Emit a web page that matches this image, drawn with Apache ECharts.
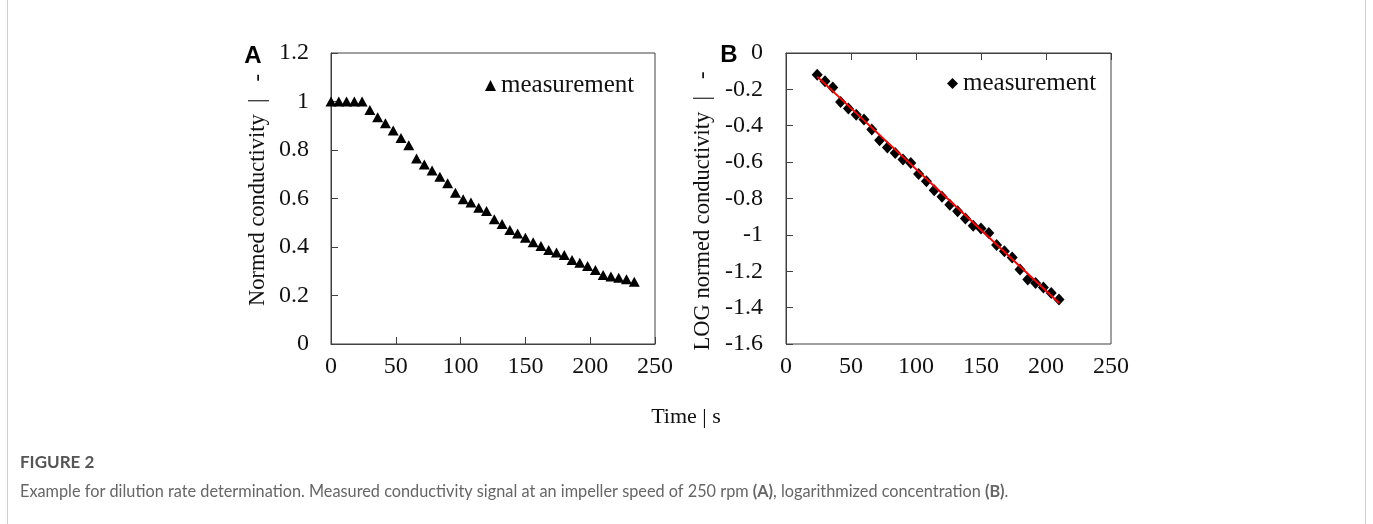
<!DOCTYPE html>
<html>
<head>
<meta charset="utf-8">
<script src="https://cdn.jsdelivr.net/npm/echarts@6/dist/echarts.min.js"></script>
<style>
html,body{margin:0;padding:0;background:#fff;}
#chart{width:1373px;height:524px;}
</style>
</head>
<body>
<div id="chart"></div>
<script>
// ---- Data ----
const timeA = [0,6,12,18,24,30,36,42,48,54,60,66,72,78,84,90,96,102,108,114,120,126,132,138,144,150,156,162,168,174,180,186,192,198,204,210,216,222,228,234];
const condA = [1,1,1,1,1,0.965,0.935,0.91,0.88,0.85,0.82,0.765,0.74,0.715,0.69,0.663,0.624,0.597,0.583,0.562,0.548,0.514,0.495,0.47,0.456,0.438,0.42,0.404,0.388,0.377,0.367,0.346,0.335,0.322,0.305,0.285,0.278,0.273,0.267,0.257];
const timeB = [24,30,36,42,48,54,60,66,72,78,84,90,96,102,108,114,120,126,132,138,144,150,156,162,168,174,180,186,192,198,204,210];
const logB = [-0.12,-0.155,-0.19,-0.27,-0.305,-0.34,-0.365,-0.42,-0.48,-0.52,-0.55,-0.585,-0.605,-0.665,-0.705,-0.755,-0.79,-0.835,-0.87,-0.91,-0.95,-0.965,-0.99,-1.055,-1.09,-1.125,-1.19,-1.245,-1.265,-1.29,-1.32,-1.355];
const trendX = [24,210];
const trendY = [-0.13,-1.375];
const xTicks = [0,50,100,150,200,250];
const yTicksA = [0,0.2,0.4,0.6,0.8,1,1.2];
const yTicksB = [0,-0.2,-0.4,-0.6,-0.8,-1,-1.2,-1.4,-1.6];
const seriesName = 'measurement';

const zip = (xs, ys) => xs.map((x, i) => [x, ys[i]]);
const SERIF = '"Liberation Serif", "Times New Roman", serif';
const AX = '#404040';
const tickFont = {fontFamily: SERIF, fontSize: 24, color: '#111'};

const chart = echarts.init(document.getElementById('chart'));
chart.setOption({
  animation: false,
  backgroundColor: '#fff',
  grid: [
    {left: 331, top: 53, width: 324, height: 291, show: true, borderColor: AX, borderWidth: 1},
    {left: 786, top: 53, width: 325, height: 291, show: true, borderColor: AX, borderWidth: 1}
  ],
  xAxis: [
    {gridIndex: 0, type: 'value', min: xTicks[0], max: xTicks[xTicks.length-1], interval: 50,
     axisLine: {show: true, lineStyle: {color: AX}}, axisTick: {show: true, inside: true, length: 7, lineStyle: {color: AX}},
     splitLine: {show: false}, axisLabel: Object.assign({margin: 11}, tickFont)},
    {gridIndex: 1, type: 'value', min: xTicks[0], max: xTicks[xTicks.length-1], interval: 50, position: 'bottom',
     axisLine: {show: true, lineStyle: {color: AX}}, axisTick: {show: false},
     splitLine: {show: false}, axisLabel: Object.assign({margin: 11}, tickFont)},
    {gridIndex: 1, type: 'value', min: xTicks[0], max: xTicks[xTicks.length-1], interval: 50, position: 'top',
     axisLine: {show: false}, axisTick: {show: true, inside: true, length: 7, lineStyle: {color: AX}},
     splitLine: {show: false}, axisLabel: {show: false}}
  ],
  yAxis: [
    {gridIndex: 0, type: 'value', min: yTicksA[0], max: yTicksA[yTicksA.length-1], interval: 0.2,
     axisLine: {show: true, lineStyle: {color: AX}}, axisTick: {show: true, inside: true, length: 7, lineStyle: {color: AX}},
     splitLine: {show: false}, axisLabel: Object.assign({margin: 22}, tickFont)},
    {gridIndex: 1, type: 'value', min: yTicksB[yTicksB.length-1], max: yTicksB[0], interval: 0.2,
     axisLine: {show: true, lineStyle: {color: AX}}, axisTick: {show: true, inside: true, length: 7, lineStyle: {color: AX}},
     splitLine: {show: false}, axisLabel: Object.assign({margin: 23}, tickFont)}
  ],
  legend: [
    {left: 485, top: 73, padding: 0, itemWidth: 11, itemHeight: 11, itemGap: 0,
     data: [{name: seriesName, icon: 'triangle', itemStyle: {color: '#000', opacity: 1}}],
     textStyle: {fontFamily: SERIF, fontSize: 25, color: '#111'}},
    {left: 947, top: 71, padding: 0, itemWidth: 11, itemHeight: 11, itemGap: 0,
     data: [{name: seriesName, icon: 'diamond', itemStyle: {color: '#000', opacity: 1}}],
     textStyle: {fontFamily: SERIF, fontSize: 25, color: '#111'}}
  ],
  series: [
    {name: seriesName, type: 'scatter', xAxisIndex: 0, yAxisIndex: 0, data: zip(timeA, condA),
     symbol: 'triangle', symbolSize: [11, 10], itemStyle: {color: '#000', opacity: 1}},
    {name: seriesName, type: 'scatter', xAxisIndex: 1, yAxisIndex: 1, data: zip(timeB, logB),
     symbol: 'diamond', symbolSize: [11, 12], itemStyle: {color: '#000', opacity: 1}},
    {name: 'trend', type: 'line', xAxisIndex: 1, yAxisIndex: 1, data: zip(trendX, trendY),
     symbol: 'none', z: 5, lineStyle: {color: '#ff0000', width: 2}}
  ],
  graphic: [
    {type: 'line', shape: {x1: 7.5, y1: 0, x2: 7.5, y2: 524}, style: {stroke: '#d0d0d0', lineWidth: 1}, silent: true},
    {type: 'line', shape: {x1: 1365.5, y1: 0, x2: 1365.5, y2: 524}, style: {stroke: '#d0d0d0', lineWidth: 1}, silent: true},
    {type: 'text', x: 253, y: 56, style: {text: 'A', font: 'bold 24px "Liberation Sans", Arial, sans-serif', fill: '#000', textAlign: 'center', textVerticalAlign: 'middle'}},
    {type: 'text', x: 729, y: 55, style: {text: 'B', font: 'bold 24px "Liberation Sans", Arial, sans-serif', fill: '#000', textAlign: 'center', textVerticalAlign: 'middle'}},
    {type: 'text', x: 258, y: 190, rotation: Math.PI / 2, style: {text: 'Normed conductivity  |   -', font: '22.5px ' + SERIF, fill: '#111', textAlign: 'center', textVerticalAlign: 'middle'}},
    {type: 'text', x: 703, y: 211, rotation: Math.PI / 2, style: {text: 'LOG normed conductivity  |   -', font: '22.5px ' + SERIF, fill: '#111', textAlign: 'center', textVerticalAlign: 'middle'}},
    {type: 'text', x: 686, y: 417, style: {text: 'Time | s', font: '22px ' + SERIF, fill: '#111', textAlign: 'center', textVerticalAlign: 'middle'}},
    {type: 'text', x: 20, y: 463, style: {text: 'FIGURE 2', font: 'bold 17px Lato, sans-serif', fill: '#555', textAlign: 'left', textVerticalAlign: 'middle'}},
    {type: 'text', x: 20, y: 492, style: {
      text: 'Example for dilution rate determination. Measured conductivity signal at an impeller speed of 250 rpm {b|(A)}, logarithmized concentration {b|(B)}.',
      font: '16.3px Lato, sans-serif', fill: '#666', textAlign: 'left', textVerticalAlign: 'middle',
      rich: {b: {fontFamily: 'Lato, sans-serif', fontSize: 16.3, fontWeight: 'bold', color: '#444'}}}}
  ]
});
</script>
</body>
</html>
